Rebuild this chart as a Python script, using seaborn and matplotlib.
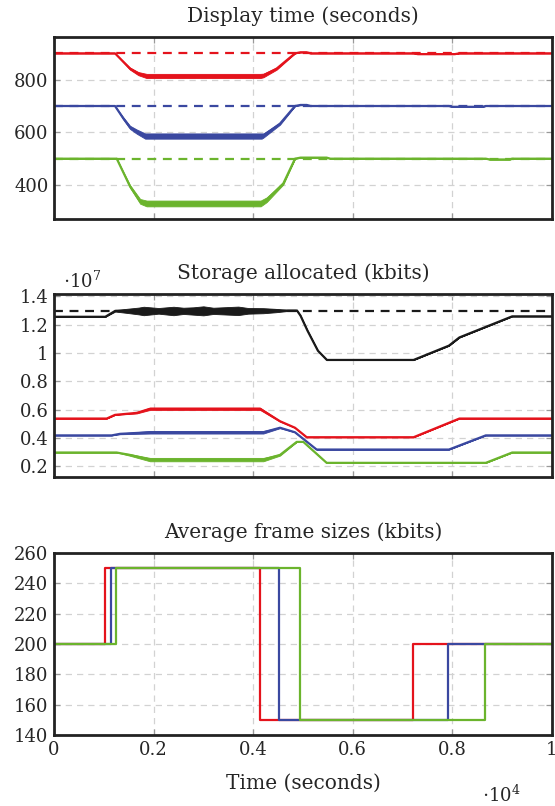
import numpy as np
import pandas as pd
import matplotlib
matplotlib.use("Agg")
import matplotlib.pyplot as plt
import seaborn as sns
from matplotlib.ticker import FuncFormatter

# ---------------- data ----------------
# Panel 1: display time (seconds)
disp_red_x = [0, 1225, 1526, 1693, 1860, 4140, 4205, 4471, 4840, 4950, 5070, 5150, 7220, 7300, 8050, 8140, 10000]
disp_red_y = [900, 900, 842, 823, 814, 814, 816, 842, 900, 904, 904, 900, 900, 897, 897, 900, 900]
disp_red_n = [0, 0, 4, 6, 8, 8, 7, 4, 0, 1, 1, 0, 0, 0, 0, 0, 0]

disp_blue_x = [0, 1225, 1392, 1526, 1660, 1830, 4170, 4205, 4538, 4840, 4950, 5075, 5150, 7930, 8000, 8600, 8670, 10000]
disp_blue_y = [700, 700, 653, 619, 603, 586, 586, 588, 633, 700, 704, 704, 700, 700, 697, 697, 700, 700]
disp_blue_n = [0, 0, 4, 6, 8, 10, 10, 8, 4, 0, 1, 1, 0, 0, 0, 0, 0, 0]

disp_green_x = [0, 1260, 1526, 1730, 1860, 4150, 4270, 4605, 4840, 4950, 5475, 5550, 8670, 8750, 9150, 9200, 10000]
disp_green_y = [500, 500, 395, 338, 330, 330, 344, 406, 500, 504, 504, 500, 500, 497, 497, 500, 500]
disp_green_n = [0, 0, 5, 9, 11, 11, 9, 4, 0, 1, 1, 0, 0, 0, 0, 0, 0]

disp_ref = [900, 700, 500]

# Panel 2: storage allocated (kbits)
stor_black_x = [0, 1030, 1230, 1450, 1700, 1800, 2100, 2400, 2600, 2800, 3000, 3200, 3450, 3700, 3900, 4200, 4450, 4670, 4880, 4950, 5090, 5300, 5480, 7220, 7930, 8140, 9200, 10000]
stor_black_y = [1.256e7, 1.256e7, 1.298e7, 1.298e7, 1.297e7, 1.297e7, 1.298e7, 1.297e7, 1.298e7, 1.297e7, 1.298e7, 1.298e7, 1.298e7, 1.298e7, 1.298e7, 1.299e7, 1.30e7, 1.30e7, 1.30e7, 1.264e7, 1.158e7, 1.016e7, 0.951e7, 0.951e7, 1.052e7, 1.11e7, 1.259e7, 1.259e7]
stor_black_n = [0, 0, 0.005e7, 0.014e7, 0.024e7, 0.03e7, 0.02e7, 0.03e7, 0.022e7, 0.026e7, 0.032e7, 0.022e7, 0.026e7, 0.03e7, 0.02e7, 0.018e7, 0.012e7, 0.004e7, 0, 0, 0, 0, 0, 0, 0, 0, 0, 0]
stor_cap = 1.30e7

stor_red_x = [0, 1058, 1225, 1660, 1928, 4137, 4538, 4839, 5074, 7220, 8140, 10000]
stor_red_y = [0.537e7, 0.537e7, 0.563e7, 0.577e7, 0.606e7, 0.606e7, 0.518e7, 0.472e7, 0.405e7, 0.405e7, 0.537e7, 0.537e7]
stor_red_n = [0, 0, 0, 0.004e7, 0.008e7, 0.008e7, 0.003e7, 0, 0, 0, 0, 0]

stor_blue_x = [0, 1158, 1325, 1928, 4204, 4538, 4839, 5274, 7930, 8670, 10000]
stor_blue_y = [0.418e7, 0.418e7, 0.429e7, 0.44e7, 0.44e7, 0.472e7, 0.44e7, 0.318e7, 0.318e7, 0.418e7, 0.418e7]
stor_blue_n = [0, 0, 0.003e7, 0.009e7, 0.009e7, 0.003e7, 0, 0, 0, 0, 0]

stor_green_x = [0, 1258, 1526, 1928, 4204, 4538, 4873, 5007, 5475, 8670, 9200, 10000]
stor_green_y = [0.297e7, 0.297e7, 0.28e7, 0.247e7, 0.247e7, 0.28e7, 0.372e7, 0.372e7, 0.224e7, 0.224e7, 0.297e7, 0.297e7]
stor_green_n = [0, 0, 0.006e7, 0.012e7, 0.012e7, 0.005e7, 0, 0, 0, 0, 0, 0]

# Panel 3: average frame sizes (kbits), step functions (value holds until next x)
frame_red_x = [0, 1025, 4130, 7200, 10000]
frame_red_y = [200, 250, 150, 200, 200]
frame_blue_x = [0, 1140, 4520, 7920, 10000]
frame_blue_y = [200, 250, 150, 200, 200]
frame_green_x = [0, 1245, 4940, 8650, 10000]
frame_green_y = [200, 250, 150, 200, 200]

titles = ["Display time (seconds)", "Storage allocated (kbits)", "Average frame sizes (kbits)"]
xticks = [0, 2000, 4000, 6000, 8000, 10000]
xtick_labels = ["0", "0.2", "0.4", "0.6", "0.8", "1"]

RED, BLUE, GREEN, BLACK = "#e4131c", "#3a48a0", "#6bb42d", "#1a1a1a"

# ---------------- style ----------------
sns.set_style("ticks")
plt.rcParams["font.family"] = ["DejaVu Serif"]
plt.rcParams["mathtext.fontset"] = "dejavuserif"

W, H = 555, 806
fig = plt.figure(figsize=(W / 100, H / 100), dpi=100)

def ax_at(top, bottom, left=54, right=552):
    return fig.add_axes([left / W, 1 - bottom / H, (right - left) / W, (bottom - top) / H])

ax1 = ax_at(37, 219)
ax2 = ax_at(294, 477)
ax3 = ax_at(553, 735)

LW = 1.6

def style(ax, title):
    ax.set_xlim(0, 10000)
    ax.set_xticks(xticks)
    ax.grid(True, color="#d2d2d2", linestyle=(0, (5, 4)), linewidth=0.9)
    ax.set_axisbelow(True)
    for s in ax.spines.values():
        s.set_linewidth(2.0)
        s.set_color("#222222")
    ax.tick_params(direction="in", length=4, width=0.9, color="#999999",
                   labelsize=13, left=True, right=True, top=True, bottom=True, pad=4)
    ax.set_title(title, fontsize=14.5, pad=10.5)
    ax.set_xlabel("")
    ax.set_ylabel("")

def line(ax, xs, ys, color, **kw):
    df = pd.DataFrame({"x": xs, "y": ys})
    sns.lineplot(data=df, x="x", y="y", ax=ax, color=color, linewidth=LW,
                 estimator=None, sort=False, legend=False, **kw)

def band(ax, xs, ys, ns, color):
    xs = np.asarray(xs, float); ys = np.asarray(ys, float); ns = np.asarray(ns, float)
    ax.fill_between(xs, ys - ns, ys + ns, color=color, linewidth=0.6,
                    edgecolor=color, zorder=2.5)

# Panel 1
for val, c in zip(disp_ref, [RED, BLUE, GREEN]):
    ax1.axhline(val, color=c, linewidth=LW, linestyle=(0, (4, 3)), zorder=2)
for xs, ys, ns, c in [(disp_red_x, disp_red_y, disp_red_n, RED),
                      (disp_blue_x, disp_blue_y, disp_blue_n, BLUE),
                      (disp_green_x, disp_green_y, disp_green_n, GREEN)]:
    band(ax1, xs, ys, ns, c)
    line(ax1, xs, ys, c)
style(ax1, titles[0])
ax1.set_ylim(271, 962)
ax1.set_yticks([400, 600, 800])
ax1.set_xticklabels([])

# Panel 2
ax2.axhline(stor_cap, color=BLACK, linewidth=LW, linestyle=(0, (4, 3)), zorder=2)
for xs, ys, ns, c in [(stor_black_x, stor_black_y, stor_black_n, BLACK),
                      (stor_red_x, stor_red_y, stor_red_n, RED),
                      (stor_blue_x, stor_blue_y, stor_blue_n, BLUE),
                      (stor_green_x, stor_green_y, stor_green_n, GREEN)]:
    band(ax2, xs, ys, ns, c)
    line(ax2, xs, ys, c)
style(ax2, titles[1])
ax2.set_ylim(0.124e7, 1.417e7)
ax2.set_yticks([0.2e7, 0.4e7, 0.6e7, 0.8e7, 1.0e7, 1.2e7, 1.4e7])
ax2.yaxis.set_major_formatter(FuncFormatter(lambda v, p: f"{v / 1e7:g}"))
ax2.set_xticklabels([])

# Panel 3
for xs, ys, c in [(frame_red_x, frame_red_y, RED),
                  (frame_blue_x, frame_blue_y, BLUE),
                  (frame_green_x, frame_green_y, GREEN)]:
    line(ax3, xs, ys, c, drawstyle="steps-post")
style(ax3, titles[2])
ax3.set_ylim(140, 260)
ax3.set_yticks(list(range(140, 261, 20)))
ax3.set_xticklabels(xtick_labels)
ax3.set_xlabel("Time (seconds)", fontsize=14.5, labelpad=11)

fig.text(63 / W, 1 - 281 / H, r"$\cdot 10^{7}$", fontsize=13, ha="left", va="center")
fig.text(501 / W, 1 - 795 / H, r"$\cdot 10^{4}$", fontsize=13, ha="center", va="center")

fig.savefig("out.png", dpi=100)
